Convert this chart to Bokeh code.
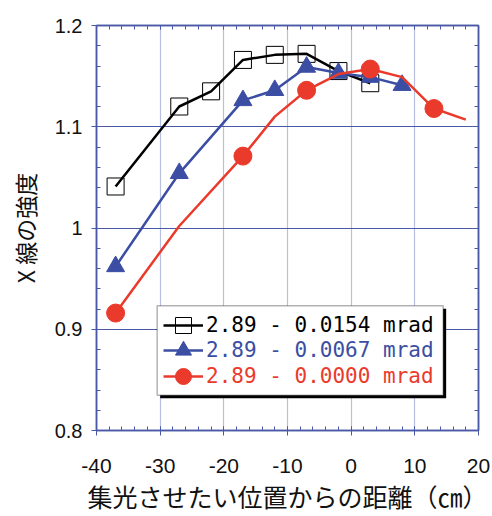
import numpy as np
from bokeh.plotting import figure
from bokeh.models import Range1d, LinearAxis, Legend, LegendItem, BoxAnnotation, FixedTicker
from bokeh.embed import file_html
from bokeh.resources import INLINE

# ---- data ----
black_x = [-37, -27, -22, -17, -12, -7, -2, 3]
black_y = [1.041, 1.120, 1.135, 1.166, 1.171, 1.172, 1.155, 1.143]

blue_x = [-37, -27, -17, -12, -7, -2, 3, 8]
blue_y = [0.962, 1.054, 1.126, 1.136, 1.159, 1.153, 1.149, 1.141]

red_x = [-37, -27, -17, -12, -7, -2, 3, 8, 13, 18]
red_y = [0.916, 1.002, 1.071, 1.110, 1.136, 1.152, 1.157, 1.149, 1.118, 1.107]
red_marker_idx = [0, 2, 4, 6, 8]

labels = ["2.89 - 0.0154 mrad", "2.89 - 0.0067 mrad", "2.89 - 0.0000 mrad"]

x_ticks = [-40, -30, -20, -10, 0, 10, 20]
x_tick_labels = ["-40", "-30", "-20", "-10", "0", "10", "20"]
y_ticks = [0.8, 0.9, 1.0, 1.1, 1.2]
y_tick_labels = ["0.8", "0.9", "1", "1.1", "1.2"]

x_label = "集光させたい位置からの距離（㎝）"
y_label = "X 線の強度"

# ---- styles ----
AXIS = "#4a58a8"
VGRID = "#b8c0e2"
BLACK = "#000000"
BLUE = "#3b4ea3"
RED = "#ea3a2c"

p = figure(width=492, height=516, output_backend="svg", toolbar_location=None,
           x_range=Range1d(-40, 20), y_range=Range1d(0.8, 1.2),
           min_border_left=96, min_border_right=14, min_border_top=25, min_border_bottom=84)
p.outline_line_color = AXIS
p.outline_line_width = 1.5
p.background_fill_color = "white"

xt = FixedTicker(ticks=x_ticks, minor_ticks=list(np.arange(-40, 21, 2)))
yt = FixedTicker(ticks=y_ticks, minor_ticks=list(np.round(np.arange(0.8, 1.201, 0.02), 3)))

xa = p.xaxis[0]
ya = p.yaxis[0]
xa.ticker = xt
ya.ticker = yt
xa.major_label_overrides = {t: s for t, s in zip(x_ticks, x_tick_labels)}
ya.major_label_overrides = {t: s for t, s in zip(y_ticks, y_tick_labels)}

for ax in (xa, ya):
    ax.axis_line_color = AXIS
    ax.axis_line_width = 1.5
    ax.major_tick_line_color = AXIS
    ax.minor_tick_line_color = AXIS
    ax.major_tick_out = 5
    ax.major_tick_in = 4
    ax.minor_tick_out = 0
    ax.minor_tick_in = 4
    ax.major_label_text_font = "Liberation Sans"
    ax.major_label_text_color = "#111111"
    ax.axis_label_text_font = "Noto Sans CJK JP"
    ax.axis_label_text_font_style = "normal"
    ax.axis_label_text_color = "#111111"

xa.axis_label = x_label
xa.major_label_text_font_size = "21px"
xa.axis_label_text_font_size = "25px"
xa.major_label_standoff = 23
xa.axis_label_standoff = 2
ya.axis_label = y_label
ya.major_label_text_font_size = "20px"
ya.axis_label_text_font_size = "23px"
ya.major_label_standoff = 9
ya.axis_label_standoff = 10

for loc, tk in (("above", xt), ("right", yt)):
    a = LinearAxis(ticker=tk)
    a.axis_line_color = AXIS
    a.axis_line_width = 1.5
    a.major_tick_line_color = AXIS
    a.minor_tick_line_color = AXIS
    a.major_tick_out = 0
    a.major_tick_in = 4
    a.minor_tick_out = 0
    a.minor_tick_in = 4
    a.major_label_text_font_size = "1px"
    a.major_label_text_color = None
    a.major_label_standoff = 0
    p.add_layout(a, loc)

p.xgrid.ticker = xt
p.ygrid.ticker = yt
p.xgrid.grid_line_color = VGRID
p.xgrid.grid_line_width = 1.2
p.ygrid.grid_line_color = AXIS
p.ygrid.grid_line_width = 1.2

# ---- series ----
bl = p.line(black_x, black_y, line_color=BLACK, line_width=2.5)
bm = p.scatter(black_x, black_y, marker="square", size=17, fill_color=None,
               line_color=BLACK, line_width=1)

ul = p.line(blue_x, blue_y, line_color=BLUE, line_width=2.5)
um = p.scatter(blue_x, blue_y, marker="triangle", size=18, fill_color=BLUE,
               line_color=BLUE)

rl = p.line(red_x, red_y, line_color=RED, line_width=2.5)
rm = p.scatter([red_x[i] for i in red_marker_idx], [red_y[i] for i in red_marker_idx],
               marker="circle", size=18, fill_color=RED, line_color=RED)

# ---- legend frame with shadow ----
shadow = BoxAnnotation(left=-30.0, right=14.92, top=0.9202, bottom=0.8318,
                       fill_color="black", fill_alpha=1.0, line_color=None)
frame = BoxAnnotation(left=-30.47, right=14.45, top=0.9231, bottom=0.8347,
                      fill_color="white", fill_alpha=1.0, line_color="black", line_width=1.5)
p.add_layout(shadow)
p.add_layout(frame)

row_centers = [105.5, 80.0, 54.0]
for lab, rends, col, cy in zip(labels, [[bl, bm], [ul, um], [rl, rm]],
                               [BLACK, BLUE, RED], row_centers):
    lg = Legend(items=[LegendItem(label=lab, renderers=rends)],
                location=(67, cy - 22), orientation="vertical")
    lg.glyph_width = 40
    lg.glyph_height = 44
    lg.label_height = 44
    lg.label_standoff = 3
    lg.padding = 0
    lg.margin = 0
    lg.spacing = 0
    lg.border_line_color = None
    lg.background_fill_alpha = 0
    lg.label_text_font = "DejaVu Sans Mono"
    lg.label_text_font_size = "21px"
    lg.label_text_color = col
    lg.label_text_baseline = "middle"
    p.add_layout(lg, "center")

open("out.html", "w").write(file_html(p, INLINE))
